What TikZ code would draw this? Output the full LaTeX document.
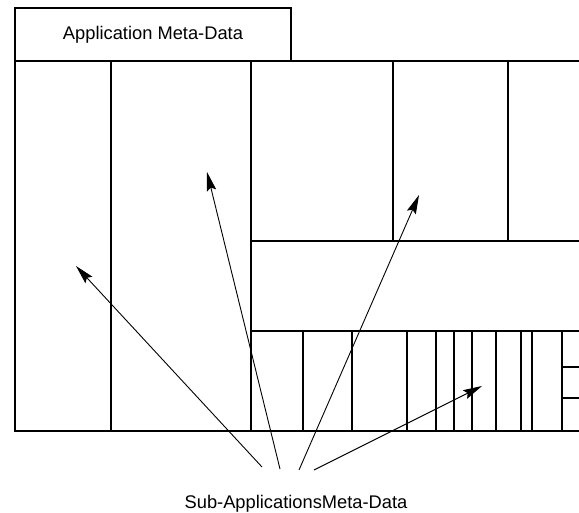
\documentclass[tikz,border=0pt]{standalone}
\usepackage{fontspec}
\setmainfont{Liberation Sans}
\usetikzlibrary{arrows.meta, positioning}
\tikzset{
  frame/.style={line width=1.3pt, draw=black},
  header/.style={rectangle, draw=black, line width=1.3pt, minimum width=276pt, minimum height=53pt,
                 font=\fontsize{18.3}{21}\selectfont, align=center, inner sep=0pt},
  subtext/.style={font=\fontsize{18.3}{21}\selectfont, inner sep=0pt},
  pointer/.style={line width=0.9pt, draw=black, -{Stealth[length=19pt,width=9.5pt,inset=3pt]}}
}
\begin{document}
\begin{tikzpicture}[x=1pt, y=-1pt]
  \useasboundingbox (0,0) rectangle (579,513);
  % Header
  \node (appmeta) [header] at (153,34.5) {Application Meta-Data};
  % Outer frame
  \draw [frame] (15,61) -- (579,61);
  \draw [frame] (15,61) -- (15,431) -- (579,431);
  \draw [frame] (111,61) -- (111,431);
  \draw [frame] (251,61) -- (251,431);
  % Upper right blocks
  \draw [frame] (393,61) -- (393,241);
  \draw [frame] (508,61) -- (508,241);
  \draw [frame] (251,241) -- (579,241);
  \draw [frame] (251,331) -- (579,331);
  % Bottom strip
  \foreach \x in {303,352,407,436,454,472,496,521,532,562}
    \draw [frame] (\x,331) -- (\x,431);
  \draw [frame] (562,367) -- (579,367);
  \draw [frame] (562,398) -- (579,398);
  % Sub-application pointers
  \node (subapps) [subtext] at (296,504) {Sub-ApplicationsMeta-Data};
  \coordinate (s1) at (262,467);
  \coordinate (s2) at (280,469);
  \coordinate (s3) at (299,470);
  \coordinate (s4) at (314,470);
  \coordinate (t1) at (76,266);
  \coordinate (t2) at (207,172);
  \coordinate (t3) at (419,195);
  \coordinate (t4) at (482,386);
  \draw [pointer] (s1) -- (t1);
  \draw [pointer] (s2) -- (t2);
  \draw [pointer] (s3) -- (t3);
  \draw [pointer] (s4) -- (t4);
\end{tikzpicture}
\end{document}
